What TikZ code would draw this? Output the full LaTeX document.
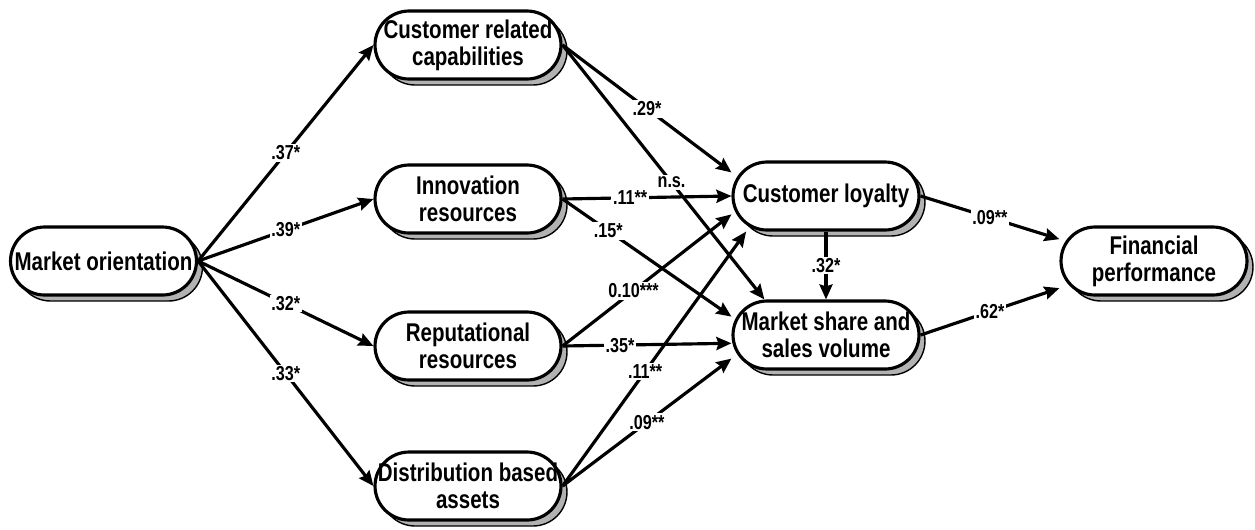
\documentclass[tikz,border=0pt]{standalone}
\usepackage{fontspec}
\newfontfamily\narrowsans[FakeStretch=0.8]{Liberation Sans}
\usetikzlibrary{arrows.meta,shadows}
\begin{document}
\begin{tikzpicture}[x=0.02cm,y=-0.02cm,
  box/.style={draw,line width=1.8pt,fill=white,rounded corners=0.68cm,
    minimum width=3.72cm,minimum height=1.36cm,align=center,inner sep=0pt,
    font=\narrowsans\bfseries\fontsize{14.6}{15.4}\selectfont,
    drop shadow={shadow xshift=0.12cm,shadow yshift=-0.12cm,opacity=1,
      fill=black!30,draw=black,line width=0.8pt}},
  arr/.style={line width=1.8pt,-{Stealth[length=0.3cm,width=0.26cm,inset=0.04cm]}},
  coef/.style={fill=white,inner sep=1pt,
    font=\narrowsans\bfseries\fontsize{11.5}{13}\selectfont}]
\useasboundingbox (0,0) rectangle (1255,529);

\node[box] (mo) at (103.5,261) {Market orientation};
\node[box] (crc) at (468,45) {Customer related\\capabilities};
\node[box] (inn) at (468,199) {Innovation\\resources};
\node[box] (rep) at (468,346) {Reputational\\resources};
\node[box] (dist) at (468,486) {Distribution based\\assets};
\node[box] (cl) at (826,196) {Customer loyalty};
\node[box] (ms) at (826,335) {Market share and\\sales volume};
\node[box] (fp) at (1154,261) {Financial\\performance};

\draw[arr] (mo.east) -- node[coef]{.37*} (crc.west);
\draw[arr] (mo.east) -- node[coef]{.39*} (inn.west);
\draw[arr] (mo.east) -- node[coef]{.32*} (rep.west);
\draw[arr] (mo.east) -- node[coef]{.33*} (dist.west);

\draw[arr] (crc.east) -- node[coef]{.29*} (cl.166);
\draw[arr] (crc.east) -- node[coef,pos=.54]{n.s.} (ms.150);
\draw[arr] (inn.east) -- node[coef,pos=.4]{.11**} (cl.west);
\draw[arr] (inn.east) -- node[coef,pos=.27]{.15*} (ms.169);
\draw[arr] (rep.east) -- node[coef,pos=.42]{0.10***} (cl.191);
\draw[arr] (rep.east) -- node[coef,pos=.34]{.35*} (ms.185);
\draw[arr] (dist.east) -- node[coef,pos=.45]{.11**} (cl.204);
\draw[arr] (dist.east) -- node[coef]{.09**} (ms.194);

\draw[arr] (cl.south) -- node[coef]{.32*} (ms.north);
\draw[arr] (cl.east) -- node[coef]{.09**} (fp.167);
\draw[arr] (ms.east) -- node[coef]{.62*} (fp.196);
\end{tikzpicture}
\end{document}
